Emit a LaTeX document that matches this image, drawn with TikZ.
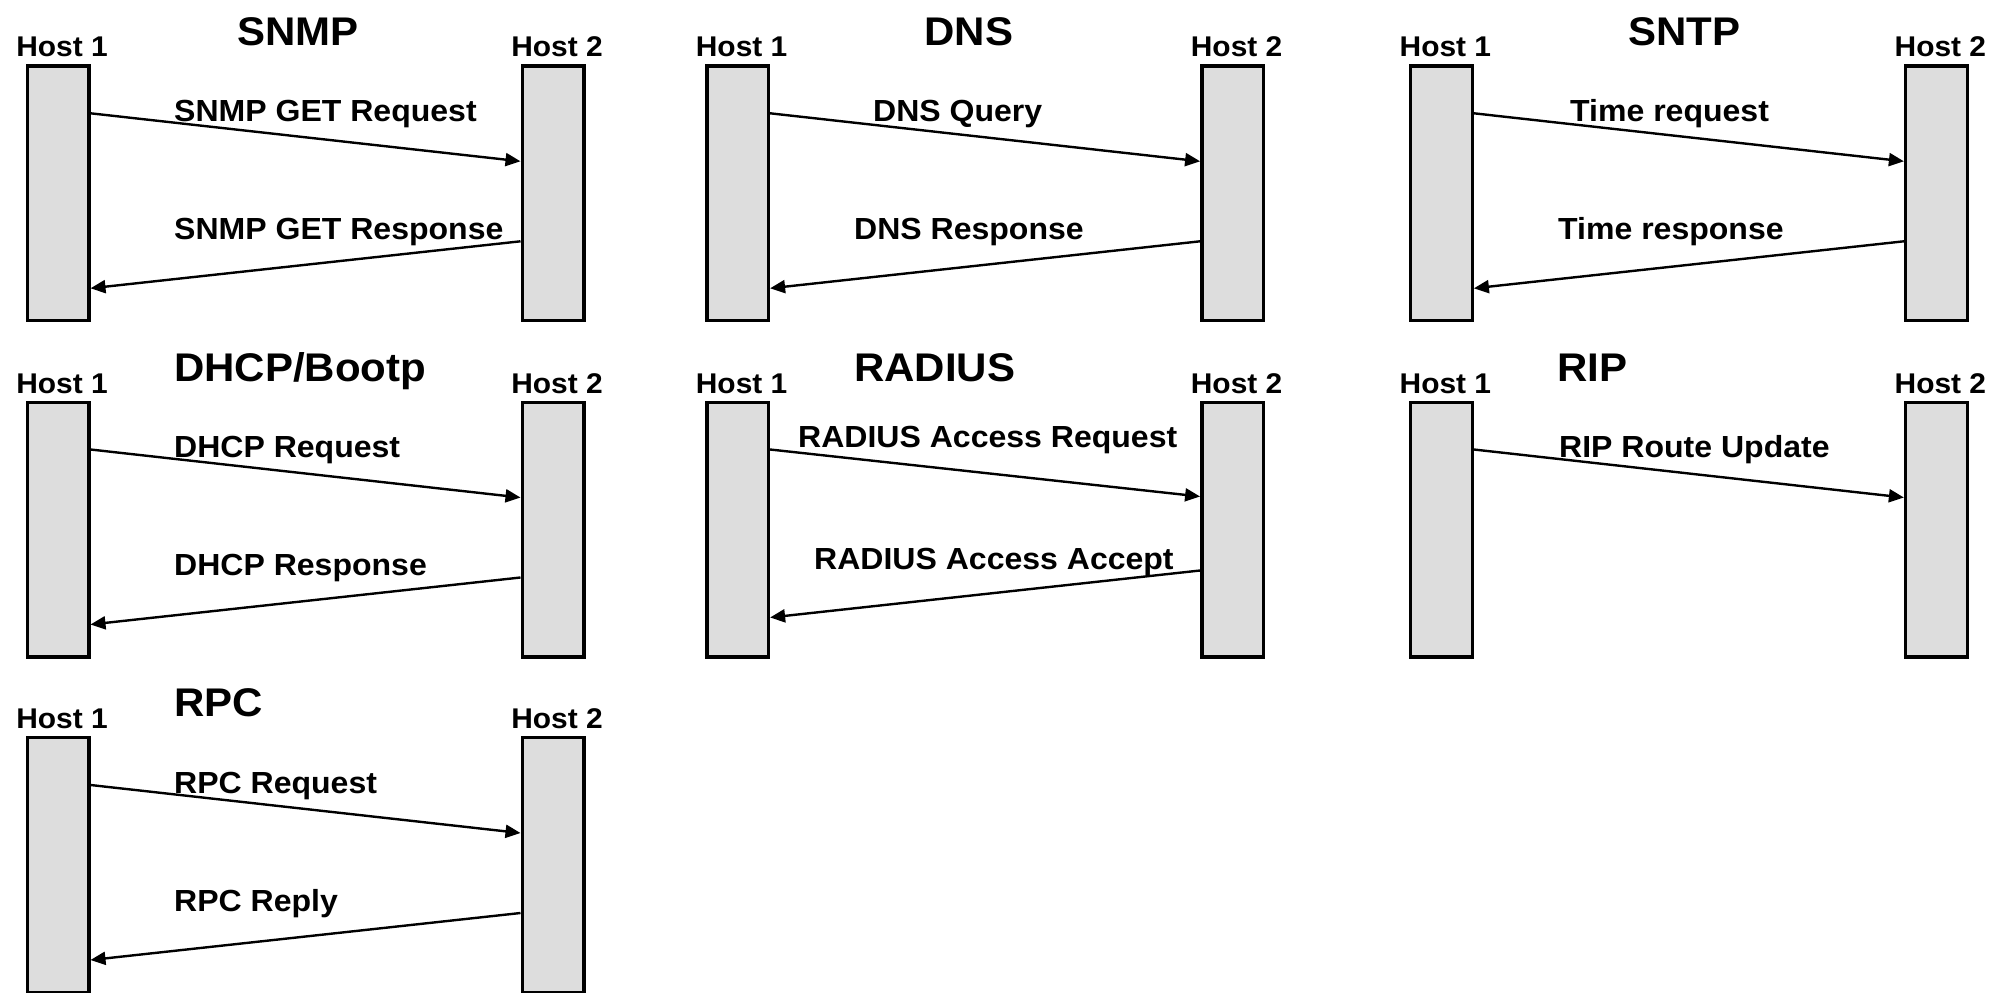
\documentclass[tikz,border=0pt]{standalone}
\usepackage{fontspec}
\setmainfont[FakeStretch=1.05]{Liberation Sans}
\usepackage{tikz}
\usetikzlibrary{positioning, arrows.meta}
\definecolor{hostgray}{RGB}{221,221,221}

\begin{document}
\begin{tikzpicture}[
    x=1pt, y=-1pt,
    node distance=7pt and 430pt,
    hostbox/.style={rectangle, draw, fill=hostgray, line width=3.4pt, minimum width=61.6pt, minimum height=254.6pt, inner sep=0pt},
    hostlbl/.style={font=\fontsize{28.5}{30}\selectfont\bfseries, inner sep=0pt, xshift=4pt},
    proto/.style={font=\fontsize{40}{42}\selectfont\bfseries, inner sep=0pt},
    msglbl/.style={font=\fontsize{30.5}{32}\selectfont\bfseries, inner sep=0pt, anchor=base west},
    arrow/.style={-{Triangle[length=15pt, width=13pt]}, line width=2.4pt}
]
    \useasboundingbox (0,0) rectangle (1995,993);

    % SNMP
    \node[hostbox] (snmpA) at (58,193.3) {};
    \node[hostbox, right=of snmpA] (snmpB) {};
    \node[hostlbl, above=of snmpA] (snmpAl) {Host 1};
    \node[hostlbl, above=of snmpB] (snmpBl) {Host 2};
    \node[proto, anchor=base] (snmpT) at (298,45.7) {SNMP};
    \node[msglbl] (snmpReq) at (174,121.3) {SNMP GET Request};
    \node[msglbl] (snmpRes) at (174,239.3) {SNMP GET Response};
    \draw[arrow] ([yshift=-49pt]snmpA.north east) -- ([yshift=-97pt]snmpB.north west);
    \draw[arrow] ([yshift=-177pt]snmpB.north west) -- ([yshift=-224pt]snmpA.north east);

    % DNS
    \node[hostbox] (dnsA) at (737.6,193.3) {};
    \node[hostbox, right=of dnsA] (dnsB) {};
    \node[hostlbl, above=of dnsA] (dnsAl) {Host 1};
    \node[hostlbl, above=of dnsB] (dnsBl) {Host 2};
    \node[proto, anchor=base] (dnsT) at (969,45.7) {DNS};
    \node[msglbl] (dnsReq) at (873,121.3) {DNS Query};
    \node[msglbl] (dnsRes) at (854,239.3) {DNS Response};
    \draw[arrow] ([yshift=-49pt]dnsA.north east) -- ([yshift=-97pt]dnsB.north west);
    \draw[arrow] ([yshift=-177pt]dnsB.north west) -- ([yshift=-224pt]dnsA.north east);

    % SNTP
    \node[hostbox] (sntpA) at (1441.4,193.3) {};
    \node[hostbox, right=of sntpA] (sntpB) {};
    \node[hostlbl, above=of sntpA] (sntpAl) {Host 1};
    \node[hostlbl, above=of sntpB] (sntpBl) {Host 2};
    \node[proto, anchor=base] (sntpT) at (1684,45.7) {SNTP};
    \node[msglbl] (sntpReq) at (1570,121.3) {Time request};
    \node[msglbl] (sntpRes) at (1558,239.3) {Time response};
    \draw[arrow] ([yshift=-49pt]sntpA.north east) -- ([yshift=-97pt]sntpB.north west);
    \draw[arrow] ([yshift=-177pt]sntpB.north west) -- ([yshift=-224pt]sntpA.north east);

    % DHCP/Bootp
    \node[hostbox] (dhcpA) at (58,529.5) {};
    \node[hostbox, right=of dhcpA] (dhcpB) {};
    \node[hostlbl, above=of dhcpA] (dhcpAl) {Host 1};
    \node[hostlbl, above=of dhcpB] (dhcpBl) {Host 2};
    \node[proto, anchor=base west] (dhcpT) at (174,381.2) {DHCP/Bootp};
    \node[msglbl] (dhcpReq) at (174,457.5) {DHCP Request};
    \node[msglbl] (dhcpRes) at (174,575.5) {DHCP Response};
    \draw[arrow] ([yshift=-49pt]dhcpA.north east) -- ([yshift=-97pt]dhcpB.north west);
    \draw[arrow] ([yshift=-177pt]dhcpB.north west) -- ([yshift=-224pt]dhcpA.north east);

    % RADIUS
    \node[hostbox] (radA) at (737.6,529.5) {};
    \node[hostbox, right=of radA] (radB) {};
    \node[hostlbl, above=of radA] (radAl) {Host 1};
    \node[hostlbl, above=of radB] (radBl) {Host 2};
    \node[proto, anchor=base west] (radT) at (854,381.2) {RADIUS};
    \node[msglbl] (radReq) at (798,447.3) {RADIUS Access Request};
    \node[msglbl] (radRes) at (814,569.3) {RADIUS Access Accept};
    \draw[arrow] ([yshift=-49pt]radA.north east) -- ([yshift=-96pt]radB.north west);
    \draw[arrow] ([yshift=-170pt]radB.north west) -- ([yshift=-217pt]radA.north east);

    % RIP
    \node[hostbox] (ripA) at (1441.4,529.5) {};
    \node[hostbox, right=of ripA] (ripB) {};
    \node[hostlbl, above=of ripA] (ripAl) {Host 1};
    \node[hostlbl, above=of ripB] (ripBl) {Host 2};
    \node[proto, anchor=base west] (ripT) at (1557,381.2) {RIP};
    \node[msglbl] (ripReq) at (1559,457.5) {RIP Route Update};
    \draw[arrow] ([yshift=-49pt]ripA.north east) -- ([yshift=-97pt]ripB.north west);

    % RPC
    \node[hostbox] (rpcA) at (58,865) {};
    \node[hostbox, right=of rpcA] (rpcB) {};
    \node[hostlbl, above=of rpcA] (rpcAl) {Host 1};
    \node[hostlbl, above=of rpcB] (rpcBl) {Host 2};
    \node[proto, anchor=base west] (rpcT) at (174,716.7) {RPC};
    \node[msglbl] (rpcReq) at (174,793.5) {RPC Request};
    \node[msglbl] (rpcRes) at (174,911.5) {RPC Reply};
    \draw[arrow] ([yshift=-49pt]rpcA.north east) -- ([yshift=-97pt]rpcB.north west);
    \draw[arrow] ([yshift=-177pt]rpcB.north west) -- ([yshift=-224pt]rpcA.north east);
\end{tikzpicture}
\end{document}
